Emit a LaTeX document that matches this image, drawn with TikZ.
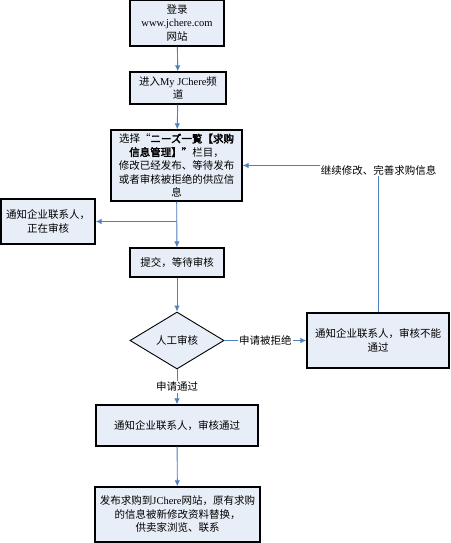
\documentclass[tikz,border=0pt]{standalone}
\usepackage{fontspec}
\setmainfont[AutoFakeBold=2.5]{Noto Sans CJK SC}
\newfontfamily\en{Liberation Serif}
\usetikzlibrary{shapes.geometric, arrows.meta}
\tikzset{>={Latex[length=6pt, width=5.5pt]}}
\definecolor{boxfill}{HTML}{E8EEF7}
\definecolor{linkblue}{HTML}{4F81BD}
\tikzset{
    box/.style={draw, line width=1.3pt, fill=boxfill, align=center, inner sep=1pt},
    decision/.style={draw, diamond, line width=.9pt, fill=boxfill, inner sep=0pt},
    link/.style={->, draw=linkblue, fill=linkblue, line width=.9pt},
    tag/.style={fill=white, inner sep=1pt},
}

\begin{document}
\begin{tikzpicture}[x=1pt, y=-1pt, font=\fontsize{10.5}{13.5}\selectfont]
    \useasboundingbox(0, 0) rectangle (450, 543);
    % main column
    \node[box, minimum width=94pt, minimum height=46pt](login) at(177, 23){登录\\{\en www.jchere.com}\\网站};
    \node[box, minimum width=96pt, minimum height=32pt](channel) at(178, 88){进入{\en My JChere}频\\道};
    \node[box, minimum width=131pt, minimum height=71pt](select) at(176.5, 165.5){选择“{\bfseries ニーズ一覧【求购}\\{\bfseries 信息管理】”}栏目，\\修改已经发布、等待发布\\或者审核被拒绝的供应信\\息};
    \node[box, minimum width=94pt, minimum height=45pt](inreview) at(48, 221.5){通知企业联系人，\\正在审核};
    \node[box, minimum width=94pt, minimum height=29pt](submit) at(177, 262.5){提交，等待审核};
    \node[decision, minimum width=94pt, minimum height=57pt](audit) at(177, 340.5){人工审核};
    \node[box, minimum width=142pt, minimum height=55pt](reject) at(378, 340.5){通知企业联系人，审核不能\\通过};
    \node[box, minimum width=162pt, minimum height=41pt](pass) at(177, 425.5){通知企业联系人，审核通过};
    \node[box, minimum width=165pt, minimum height=55pt](publish) at(177.5, 514.5){发布求购到{\en JChere}网站，原有求购\\的信息被新修改资料替换，\\供卖家浏览、联系};
    \node[inner sep=1pt](retry) at(378.5, 170){继续修改、完善求购信息};
    % connectors
    \draw[link](login)--(channel);
    \draw[link](channel)--(select);
    \draw[link](select)--(submit);
    \draw[link](select.south |- inreview.east)--(inreview.east);
    \draw[link](submit)--(audit);
    \draw[link](audit.east)--node[tag]{申请被拒绝}(reject.west);
    \draw[link](audit.south)--node[tag]{申请通过}(pass.north);
    \draw[link](pass)--(publish);
    \draw[draw=linkblue, line width=.9pt](reject.north)--(reject.north |- retry.south);
    \draw[link](retry.west |- select.east)--(select.east);
\end{tikzpicture}
\end{document}
